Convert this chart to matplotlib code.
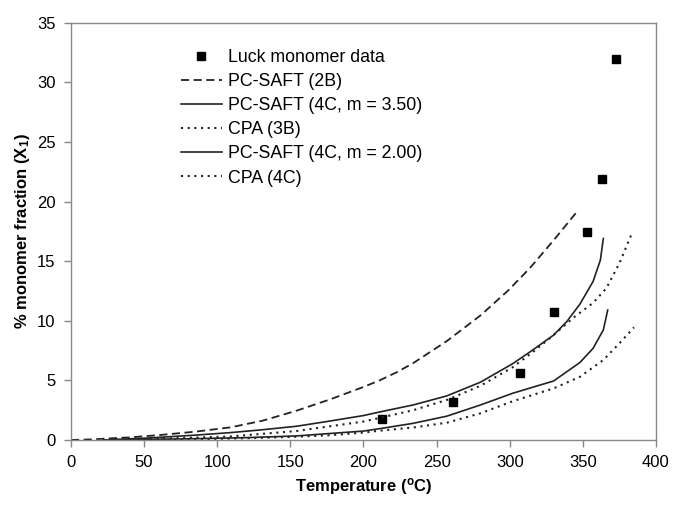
import matplotlib
matplotlib.use("Agg")
import matplotlib.pyplot as plt

plt.rcParams['font.family'] = ['Liberation Sans', 'DejaVu Sans']
plt.rcParams['mathtext.fontset'] = 'custom'
plt.rcParams['mathtext.rm'] = 'Liberation Sans'
plt.rcParams['mathtext.bf'] = 'Liberation Sans:bold'
plt.rcParams['mathtext.it'] = 'Liberation Sans:italic'

# Experimental data (Luck)
luck_T = [213, 261, 307, 330, 353, 363, 373]
luck_X = [1.8, 3.2, 5.6, 10.75, 17.45, 21.9, 31.95]

# PC-SAFT (2B)
pc2b_T = [0, 15, 40, 61, 85, 109, 131, 154, 177, 200, 211, 223, 234, 257, 280, 299, 314, 330, 346]
pc2b_X = [0, 0.06, 0.22, 0.42, 0.7, 1.06, 1.62, 2.45, 3.4, 4.45, 5.0, 5.7, 6.45, 8.3, 10.45, 12.55, 14.45, 16.75, 19.15]

# PC-SAFT (4C, m = 3.50)
pc4a_T = [22, 50, 84, 109, 130, 154, 175, 200, 211, 234, 257, 280, 302, 314, 330, 339, 348, 357, 362, 364]
pc4a_X = [0, 0.15, 0.4, 0.62, 0.85, 1.15, 1.55, 2.05, 2.35, 2.94, 3.7, 4.85, 6.4, 7.4, 8.8, 9.93, 11.4, 13.3, 15.1, 16.9]

# CPA (3B)
cpa3_T = [22, 60, 109, 154, 200, 211, 234, 257, 280, 302, 316, 328, 344, 357, 366, 375, 384]
cpa3_X = [0, 0.1, 0.3, 0.75, 1.55, 1.85, 2.5, 3.36, 4.55, 6.1, 7.4, 8.6, 10.3, 11.5, 12.72, 14.82, 17.48]

# PC-SAFT (4C, m = 2.00)
pc4b_T = [25, 80, 120, 154, 200, 211, 234, 257, 280, 302, 330, 348, 357, 364, 367]
pc4b_X = [0, 0.1, 0.2, 0.34, 0.75, 0.95, 1.4, 2.0, 2.94, 3.92, 4.95, 6.5, 7.69, 9.23, 10.9]

# CPA (4C)
cpa4_T = [25, 80, 120, 154, 177, 200, 211, 234, 257, 280, 302, 330, 348, 364, 375, 385]
cpa4_X = [0, 0.05, 0.15, 0.27, 0.4, 0.62, 0.78, 1.05, 1.45, 2.24, 3.25, 4.33, 5.3, 6.71, 8.11, 9.45]

fig = plt.figure(figsize=(6.73, 5.05), dpi=100)
ax = fig.add_axes([0.1055, 0.1287, 0.8692, 0.8263])

lc = '#222222'
ax.plot(luck_T, luck_X, 's', color='black', ms=6.3, label='Luck monomer data')
ax.plot(pc2b_T, pc2b_X, color=lc, lw=1.3, ls=(0, (4.5, 2.5)), label='PC-SAFT (2B)')
ax.plot(pc4a_T, pc4a_X, color=lc, lw=1.2, ls='-', label='PC-SAFT (4C, m = 3.50)')
ax.plot(cpa3_T, cpa3_X, color=lc, lw=1.5, ls=(0, (1, 2.2)), label='CPA (3B)')
ax.plot(pc4b_T, pc4b_X, color=lc, lw=1.2, ls='-', label='PC-SAFT (4C, m = 2.00)')
ax.plot(cpa4_T, cpa4_X, color=lc, lw=1.5, ls=(0, (1, 2.2)), label='CPA (4C)')

ax.set_xlim(0, 400)
ax.set_ylim(0, 35)
ax.set_xticks(range(0, 401, 50))
ax.set_yticks(range(0, 36, 5))

for s in ax.spines.values():
    s.set_color('#888888')
    s.set_linewidth(1.0)
ax.tick_params(direction='out', length=5, width=1, color='#888888',
               labelsize=12, labelcolor='black', pad=6)

ax.set_xlabel(r'Temperature ($\mathbf{^{o}}$C)', fontsize=12, fontweight='bold', labelpad=4)
ax.set_ylabel(r'% monomer fraction (X$\mathbf{_{1}}$)', fontsize=12, fontweight='bold', labelpad=4)

leg = ax.legend(loc='upper left', bbox_to_anchor=(0.188, 0.937), frameon=False,
                fontsize=12.8, handlelength=2.3, handletextpad=0.34, labelspacing=0.4,
                borderpad=0, borderaxespad=0, numpoints=1)

fig.savefig('out.png', dpi=100)
